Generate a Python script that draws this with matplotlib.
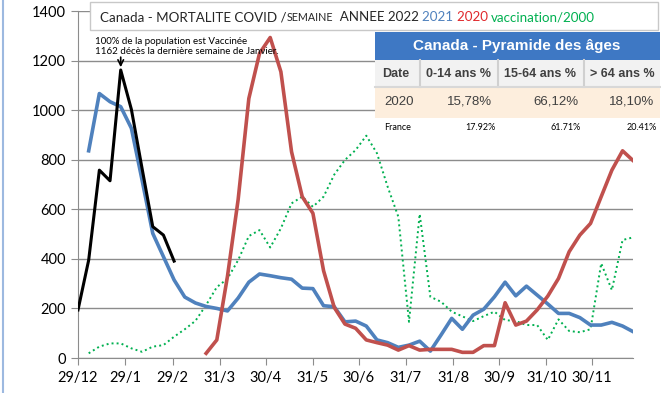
import matplotlib
matplotlib.use("Agg")
import matplotlib.pyplot as plt
from matplotlib.patches import Rectangle
from matplotlib.lines import Line2D

plt.rcParams['font.family'] = ['Lato', 'DejaVu Sans']

# semaines (jour = 7 * semaine depuis le 29/12)
weeks_2022 = list(range(0, 10))
deaths_2022 = [194, 395, 758, 715, 1162, 1003, 765, 530, 496, 391]

weeks_2021 = list(range(1, 53))
deaths_2021 = [836, 1067, 1034, 1014, 927, 718, 503, 409, 315, 246, 222, 208,
               200, 190, 242, 306, 339, 332, 324, 318, 282, 280, 211, 207,
               146, 149, 129, 73, 62, 43, 52, 68, 28, 93, 160, 116,
               173, 197, 247, 306, 251, 290, 254, 218, 180, 180, 163, 133,
               133, 144, 129, 106]

weeks_2020 = list(range(12, 53))
deaths_2020 = [19, 73, 330, 640, 1047, 1229, 1293, 1155, 832, 651, 584, 352,
               204, 137, 120, 73, 62, 52, 32, 50, 32, 35, 35, 35, 23,
               23, 50, 50, 223, 133, 149, 194, 250, 321, 429, 496, 543,
               651, 758, 836, 796]

weeks_vacc = list(range(1, 53))
vacc_2000 = [19, 46, 59, 59, 39, 25, 46, 52, 86, 116, 150, 214,
             286, 320, 395, 492, 516, 446, 523, 624, 651, 610, 651, 740,
             799, 839, 897, 826, 691, 570, 146, 581, 247, 227, 187, 168,
             149, 169, 187, 153, 149, 133, 133, 73, 156, 109, 104, 116,
             382, 274, 476, 487]

tick_days = [0, 31, 62, 93, 123, 154, 184, 215, 246, 276, 307, 337]
tick_labels = ["29/12", "29/1", "29/2", "31/3", "30/4", "31/5", "30/6",
               "31/7", "31/8", "30/9", "31/10", "30/11"]

table_head = ["Date", "0-14 ans %", "15-64 ans %", "> 64 ans %"]
table_canada = ["2020", "15,78%", "66,12%", "18,10%"]
table_france = ["France", "17.92%", "61.71%", "20.41%"]

BLUE = "#4F81BD"
RED = "#C0504D"
GREEN = "#00B050"

fig = plt.figure(figsize=(6.61, 3.93), dpi=100)
ax = fig.add_axes([0.118, 0.089, 0.840, 0.883])

ax.plot([7 * w for w in weeks_2021], deaths_2021, color=BLUE, lw=2.6, zorder=4)
ax.plot([7 * w for w in weeks_2020], deaths_2020, color=RED, lw=2.6, zorder=5)
ax.plot([7 * w for w in weeks_vacc], vacc_2000, color=GREEN, lw=1.4,
        linestyle=(0, (1, 1.6)), zorder=3)
ax.plot([7 * w for w in weeks_2022], deaths_2022, color="black", lw=2.2, zorder=6)

ax.set_xlim(0, 364)
ax.set_ylim(0, 1400)
ax.set_yticks(range(0, 1401, 200))
ax.set_xticks(tick_days)
ax.set_xticklabels(tick_labels)
ax.grid(axis='y', color="#8C8C8C", lw=1)
ax.set_axisbelow(True)
for s in ["top", "right"]:
    ax.spines[s].set_visible(False)
for s in ["left", "bottom"]:
    ax.spines[s].set_color("#8C8C8C")
ax.tick_params(axis='both', colors="#8C8C8C", labelcolor="black", labelsize=10.5,
               length=5, direction='out')
ax.tick_params(axis='x', pad=4)

# annotation pic janvier
ax.annotate("", xy=(7 * weeks_2022[4], deaths_2022[4]), xytext=(7 * weeks_2022[4], 1225),
            arrowprops=dict(arrowstyle="->", color="black", lw=1.2), zorder=7)
fig.text(95 / 661, 1 - 41 / 393, "100% de la population est Vaccinée", fontsize=7, va='center')
fig.text(95 / 661, 1 - 52 / 393, "1162 décès la dernière semaine de Janvier.", fontsize=7, va='center')

# boite de titre
fig.patches.append(Rectangle((90 / 661, 1 - 30 / 393), 568 / 661, 28 / 393,
                             transform=fig.transFigure, facecolor="white",
                             edgecolor="#C8C8C8", lw=1, zorder=10))
parts = [("Canada - MORTALITE COVID /", "#262626", 1.0),
         ("SEMAINE", "#262626", 0.8),
         ("  ANNEE 2022 ", "#262626", 1.0),
         ("2021 ", BLUE, 1.0),
         ("2020 ", "#E0282C", 1.0),
         ("vaccination/2000", GREEN, 1.0)]
fig.canvas.draw()
r = fig.canvas.get_renderer()
# taille ajustee pour que le titre tienne entre x=100 et x=597
base = 12.5
total = 0
for txt, col, k in parts:
    t = fig.text(0, 0, txt, fontsize=base * k)
    total += t.get_window_extent(renderer=r).width
    t.remove()
base = base * 497 / total
xpos = 100 / 661
for txt, col, k in parts:
    t = fig.text(xpos, 1 - 21 / 393, txt, color=col, fontsize=base * k, va='baseline', zorder=11)
    bb = t.get_window_extent(renderer=r)
    xpos += bb.width / 661

# tableau pyramide des ages
cols = [375, 420, 498, 584, 660]
cond = ['Liberation Sans Narrow', 'Liberation Sans', 'DejaVu Sans']
fig.patches.append(Rectangle((375 / 661, 1 - 60 / 393), 285 / 661, 28 / 393,
                             transform=fig.transFigure, facecolor="#3E78C4",
                             edgecolor="none", zorder=10))
fig.text(517 / 661, 1 - 46 / 393, "Canada - Pyramide des âges", color="white",
         fontsize=11, fontweight='bold', ha='center', va='center', family=cond, zorder=11)
fig.patches.append(Rectangle((375 / 661, 1 - 87 / 393), 285 / 661, 27 / 393,
                             transform=fig.transFigure, facecolor="#F2F2F2",
                             edgecolor="none", zorder=10))
fig.patches.append(Rectangle((375 / 661, 1 - 118 / 393), 285 / 661, 31 / 393,
                             transform=fig.transFigure, facecolor="#FDEEDD",
                             edgecolor="none", zorder=10))
fig.patches.append(Rectangle((375 / 661, 1 - 134 / 393), 285 / 661, 16 / 393,
                             transform=fig.transFigure, facecolor="white",
                             edgecolor="none", zorder=10))
for xc in cols[1:4]:
    fig.add_artist(Line2D([xc / 661, xc / 661], [1 - 87 / 393, 1 - 60 / 393],
                          color="#D0D0D0", lw=1.5, zorder=11))
fig.add_artist(Line2D([375 / 661, 660 / 661], [1 - 87 / 393, 1 - 87 / 393],
                      color="#D8D8D8", lw=1.5, zorder=11))
for i, h in enumerate(table_head):
    x0 = cols[i] + 6 if i > 0 else cols[i] + 7
    fig.text(x0 / 661, 1 - 74 / 393, h, fontsize=9, fontweight='bold', color="#404040",
             va='center', family=cond, zorder=12)
for i, v in enumerate(table_canada):
    fig.text((cols[i + 1] - 6) / 661, 1 - 102 / 393, v, fontsize=9.5, color="#404040",
             ha='right', va='center', family=cond, zorder=12)
fig.text(384 / 661, 1 - 128 / 393, table_france[0], fontsize=6.5, va='center', zorder=12)
fr_x = [496, 581, 657]
for x0, v in zip(fr_x, table_france[1:]):
    fig.text(x0 / 661, 1 - 127 / 393, v, fontsize=6.5, ha='right', va='center', zorder=12)

# bord gauche
fig.add_artist(Line2D([3 / 661, 3 / 661], [0, 1], color="#9DB9E0", lw=1.5))

fig.savefig("out.png", dpi=100)
